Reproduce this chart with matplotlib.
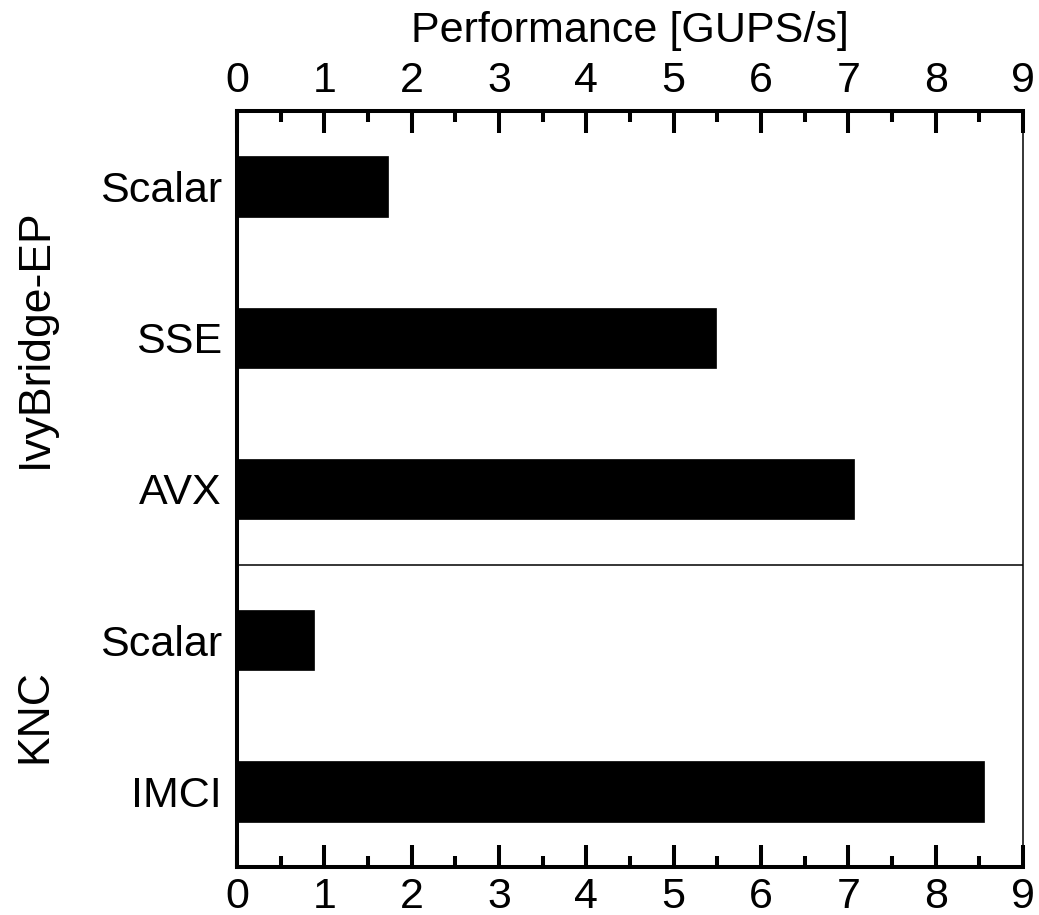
import matplotlib
matplotlib.use("Agg")
import matplotlib.pyplot as plt
import matplotlib.transforms as mtransforms
import numpy as np

plt.rcParams['font.family'] = ['Liberation Sans', 'DejaVu Sans']

groups = ['IvyBridge-EP', 'KNC']
group_sizes = [3, 2]
categories = ['Scalar', 'SSE', 'AVX', 'Scalar', 'IMCI']
values = [1.73, 5.48, 7.06, 0.88, 8.55]
xticks = [0, 1, 2, 3, 4, 5, 6, 7, 8, 9]

FS = 31
FS_GROUP = 32

fig = plt.figure(figsize=(10.39, 9.15), dpi=100)
ax = fig.add_axes([237/1039, 1 - 867/915, (1023-237)/1039, (867-111)/915])

pos = np.arange(len(categories))
ax.barh(pos, values, height=0.4, color='black', edgecolor='black', linewidth=0.5)
ax.set_ylim(len(categories) - 0.5, -0.5)
ax.set_xlim(0, 9)
ax.set_yticks(pos)
ax.set_yticklabels(categories, fontsize=FS)
ax.tick_params(axis='y', length=0, pad=11)

ax.set_xticks(xticks)
ax.set_xticks(np.arange(0.5, 9, 1.0), minor=True)
ax.set_xticklabels([str(t) for t in xticks], fontsize=FS)
ax.tick_params(axis='x', which='both', top=True, bottom=True,
               labeltop=True, labelbottom=True, direction='in', width=2.9)
ax.tick_params(axis='x', which='major', length=16, pad=7)
ax.tick_params(axis='x', which='minor', length=8)

for s in ['top', 'left', 'bottom']:
    ax.spines[s].set_linewidth(2.9)
    ax.spines[s].set_zorder(5)
ax.spines['right'].set_linewidth(1.1)

# group separator
start = 0
for n in group_sizes[:-1]:
    start += n
    ax.axhline(start - 0.5, color='black', linewidth=1.1)

# group labels
trans = mtransforms.blended_transform_factory(fig.transFigure, ax.transData)
start = 0
for g, n in zip(groups, group_sizes):
    mid = start + (n - 1) / 2
    ax.text(35/1039, mid, g, transform=trans, rotation=90, fontsize=FS_GROUP,
            ha='center', va='center')
    start += n

fig.text(630/1039, 1 - 42/915, 'Performance [GUPS/s]', fontsize=FS,
         ha='center', va='baseline')

fig.savefig('out.png', dpi=100)
